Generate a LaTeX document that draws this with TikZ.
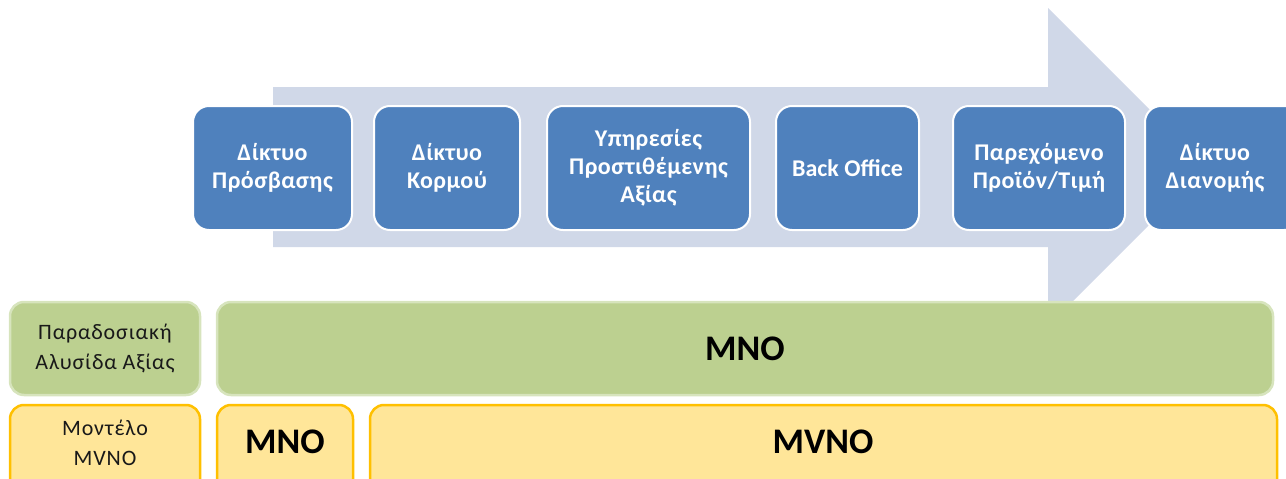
\documentclass[tikz,border=0pt]{standalone}
\usepackage{fontspec}
\setmainfont{Carlito}
\newfontfamily\spaced{Carlito}[LetterSpace=2]
\newfontfamily\spacedwide{Carlito}[LetterSpace=4]
\definecolor{stageblue}{RGB}{79,129,189}
\definecolor{flowgrey}{RGB}{208,216,232}
\definecolor{chaingreen}{RGB}{188,208,144}
\definecolor{chainedge}{RGB}{215,228,189}
\definecolor{mvnofill}{RGB}{255,230,153}
\definecolor{mvnoedge}{RGB}{255,192,0}
\tikzset{
  x=1pt, y=-1pt,
  stage/.style={draw=white, line width=2pt, fill=stageblue, rounded corners=16pt,
    text=white, align=center, font=\fontsize{24}{28}\selectfont\bfseries, inner sep=0pt},
  stagetext/.style={text=white, align=center, font=\spaced\fontsize{24}{28}\selectfont\bfseries, inner sep=0pt},
  chain/.style={draw=chainedge, line width=2.5pt, fill=chaingreen, rounded corners=14pt,
    align=center, inner sep=0pt},
  model/.style={draw=mvnoedge, line width=2.5pt, fill=mvnofill, rounded corners=14pt,
    align=center, inner sep=0pt},
  rowlabel/.style={font=\spacedwide\fontsize{22}{30}\selectfont, text=black!90},
  bigtag/.style={font=\fontsize{36}{38}\selectfont\bfseries}
}
\newcommand{\boxat}[6]{% style, name, x1, y1, x2, y2
  \node[#1, minimum width=#5-#3, minimum height=#6-#4] (#2) at ({(#3+#5)/2},{(#4+#6)/2}) {};}
\begin{document}
\begin{tikzpicture}
\useasboundingbox (0,0) rectangle (1286,479);
\clip (0,0) rectangle (1286,479);

% value-chain arrow in the background
\fill[flowgrey] (273,87) -- (1048,87) -- (1048,8) -- (1207,167) -- (1048,326)
  -- (1048,247) -- (273,247) -- cycle;

% stages of the chain
\boxat{stage}{s1}{193}{106}{352}{230}
\boxat{stage}{s2}{374}{106}{520}{230}
\boxat{stage}{s3}{547}{106}{750}{230}
\boxat{stage}{s4}{776}{106}{919}{230}
\boxat{stage}{s5}{953}{106}{1125}{230}
\boxat{stage}{s6}{1145}{106}{1300}{230}
\node[stagetext] at (s1) {Δίκτυο\\Πρόσβασης};
\node[stagetext] at (s2) {Δίκτυο\\Κορμού};
\node[stagetext] at (s3) {Υπηρεσίες\\Προστιθέμενης\\Αξίας};
\node[stage, draw=none, fill=none] at (s4) {Back Office};
\node[stagetext] at (s5) {Παρεχόμενο\\Προϊόν/Τιμή};
\node[stagetext] at (1215,168) {Δίκτυο\\Διανομής};

% traditional value chain row
\boxat{chain}{g1}{10}{302}{200}{395}
\boxat{chain}{g2}{217}{302}{1273}{395}
\node[rowlabel, align=center] at (g1) {Παραδοσιακή\\Αλυσίδα Αξίας};
\node[bigtag] at (g2) {MNO};

% MVNO model row
\boxat{model}{y1}{10}{405}{200}{500}
\boxat{model}{y2}{217}{405}{353}{500}
\boxat{model}{y3}{370}{405}{1277}{500}
\node[rowlabel, align=center] at (105,443) {Μοντέλο\\MVNO};
\node[bigtag] at (285,442) {MNO};
\node[bigtag] at (823,442) {MVNO};
\end{tikzpicture}
\end{document}
